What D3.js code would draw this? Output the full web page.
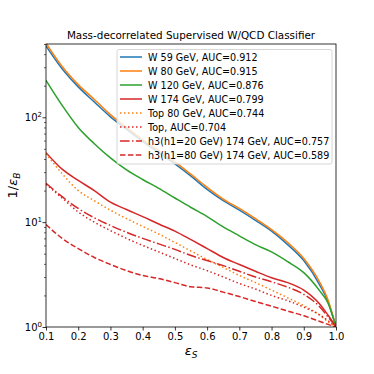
<!DOCTYPE html>
<html><head><meta charset="utf-8">
<script src="https://cdn.jsdelivr.net/npm/d3@7"></script>
<style>
html,body{margin:0;padding:0;background:#fff;}
svg text{font-family:"DejaVu Sans",sans-serif;fill:#000;}
</style></head>
<body><svg id="c" width="374" height="374"></svg>
<script>
const effS = [0.10,0.15,0.20,0.25,0.30,0.35,0.40,0.45,0.50,0.55,0.60,0.65,0.70,0.75,0.80,0.85,0.90,0.95,0.975,1.0];
const w59   = [480,290,195,140,101,77,59,46,36,27.5,20.5,16,13,10.4,8.2,6.1,4.3,2.5,1.75,1.0];
const w80   = [510,305,205,148,106,80,61,48,37.5,28.5,21.5,16.6,13.5,10.8,8.5,6.4,4.5,2.65,1.82,1.0];
const w120  = [225,130,80,56,41,31.5,25.5,21,17,13.8,11.3,9.0,7.4,6.1,5.2,4.2,3.3,2.2,1.7,1.0];
const w174  = [46,32,25,20,15.5,13.2,11.3,9.6,8.2,6.8,5.6,4.6,3.95,3.4,2.95,2.65,2.25,1.65,1.3,1.0];
const top80 = [45,29,20,16,13.0,10.8,9.1,7.7,6.4,5.3,4.4,3.7,3.1,2.65,2.25,1.9,1.6,1.3,1.12,1.0];
const topQ  = [23,17,12.5,10,8.3,7.0,6.0,5.2,4.5,3.9,3.45,3.0,2.6,2.3,2.0,1.78,1.55,1.3,1.15,1.0];
const h3_20 = [23.5,17.5,13.5,11,9.3,8.0,7.0,6.2,5.5,4.8,4.3,3.85,3.4,3.0,2.7,2.4,2.05,1.55,1.25,1.0];
const h3_80 = [9.5,7.0,5.6,4.6,3.95,3.45,3.1,2.9,2.65,2.42,2.36,2.15,1.95,1.75,1.58,1.42,1.28,1.13,1.06,1.0];
const seriesNames = ["W 59 GeV, AUC=0.912","W 80 GeV, AUC=0.915","W 120 GeV, AUC=0.876","W 174 GeV, AUC=0.799","Top 80 GeV, AUC=0.744","Top, AUC=0.704","h3(h1=20 GeV) 174 GeV, AUC=0.757","h3(h1=80 GeV) 174 GeV, AUC=0.589"];
const xTicks = [0.1,0.2,0.3,0.4,0.5,0.6,0.7,0.8,0.9,1.0];
const yMajor = [1,10,100];
const yExp = ["0","1","2"];

const C = {blue:"#1f77b4",orange:"#ff7f0e",green:"#2ca02c",red:"#d62728"};
const series = [
  {v:w59, c:C.blue, d:null},
  {v:w80, c:C.orange, d:null},
  {v:w120, c:C.green, d:null},
  {v:w174, c:C.red, d:null},
  {v:top80, c:C.orange, d:"1.5,2.5"},
  {v:topQ, c:C.red, d:"1.5,2.5"},
  {v:h3_20, c:C.red, d:"9.6,2.4,1.5,2.4"},
  {v:h3_80, c:C.red, d:"5.5,2.4"}
];

const L=46,R=336,T=44,B=327;
const svg=d3.select("#c");
const x=d3.scaleLinear().domain([0.1,1.0]).range([L,R]);
const y=d3.scaleLog().domain([1,500]).range([B,T]);

svg.append("defs").append("clipPath").attr("id","clip").append("rect")
  .attr("x",L).attr("y",T).attr("width",R-L).attr("height",B-T);

const line=d3.line().x((d,i)=>x(effS[i])).y(d=>y(d)).curve(d3.curveMonotoneX);
const g=svg.append("g").attr("clip-path","url(#clip)");
series.forEach(s=>{
  g.append("path").attr("d",line(s.v)).attr("fill","none").attr("stroke",s.c)
   .attr("stroke-width",1.5).attr("stroke-dasharray",s.d);
});

// axes
const xa=svg.append("g").attr("transform",`translate(0,${B})`)
  .call(d3.axisBottom(x).tickValues(xTicks).tickFormat(d3.format(".1f")).tickSize(3.5).tickPadding(2.5));
xa.select(".domain").remove();
xa.selectAll("text").attr("font-size","10px");
xa.selectAll("line").attr("stroke-width",0.8);

const minor=[];
[1,10,100].forEach(b=>{for(let k=2;k<=9;k++){const v=b*k; if(v<=500) minor.push(v);}});
const ya=svg.append("g").attr("transform",`translate(${L},0)`)
  .call(d3.axisLeft(y).tickValues(minor).tickFormat("").tickSize(2));
ya.select(".domain").remove();
ya.selectAll("line").attr("stroke-width",0.6);
const yb=svg.append("g").attr("transform",`translate(${L},0)`)
  .call(d3.axisLeft(y).tickValues(yMajor).tickFormat("").tickSize(3.5));
yb.select(".domain").remove();
yb.selectAll("line").attr("stroke-width",0.8);
yMajor.forEach((v,i)=>{
  const t=svg.append("text").attr("x",L-4).attr("y",y(v)+3.7).attr("text-anchor","end").attr("font-size","10px");
  t.append("tspan").text("10");
  t.append("tspan").attr("dy",-4.2).attr("font-size","7px").text(yExp[i]);
});

svg.append("rect").attr("x",L).attr("y",T).attr("width",R-L).attr("height",B-T)
  .attr("fill","none").attr("stroke","#000").attr("stroke-width",0.8);

// title and labels
svg.append("text").attr("x",(L+R)/2).attr("y",39).attr("text-anchor","middle").attr("font-size","10.4px")
  .text("Mass-decorrelated Supervised W/QCD Classifier");
const xl=svg.append("text").attr("x",(L+R)/2).attr("y",355).attr("text-anchor","middle").attr("font-size","13px");
xl.append("tspan").attr("font-style","italic").text("ε");
xl.append("tspan").attr("dy",2.8).attr("font-size","9px").attr("font-style","italic").text("S");
const yl=svg.append("text").attr("transform",`translate(17,${(T+B)/2}) rotate(-90)`).attr("text-anchor","middle").attr("font-size","13px");
yl.append("tspan").text("1/");
yl.append("tspan").attr("font-style","italic").text("ε");
yl.append("tspan").attr("dy",2.8).attr("font-size","9px").attr("font-style","italic").text("B");

// legend
const lg=svg.append("g");
lg.append("rect").attr("x",117).attr("y",49.5).attr("width",215).attr("height",114.5).attr("rx",2)
  .attr("fill","#fff").attr("fill-opacity",0.8).attr("stroke","#cccccc").attr("stroke-width",0.8);
seriesNames.forEach((n,i)=>{
  const yy=57+i*14;
  lg.append("line").attr("x1",120).attr("x2",142).attr("y1",yy).attr("y2",yy)
    .attr("stroke",series[i].c).attr("stroke-width",1.5).attr("stroke-dasharray",series[i].d);
  lg.append("text").attr("x",148).attr("y",yy+3.5).attr("font-size","9.6px").text(n);
});
</script></body></html>
